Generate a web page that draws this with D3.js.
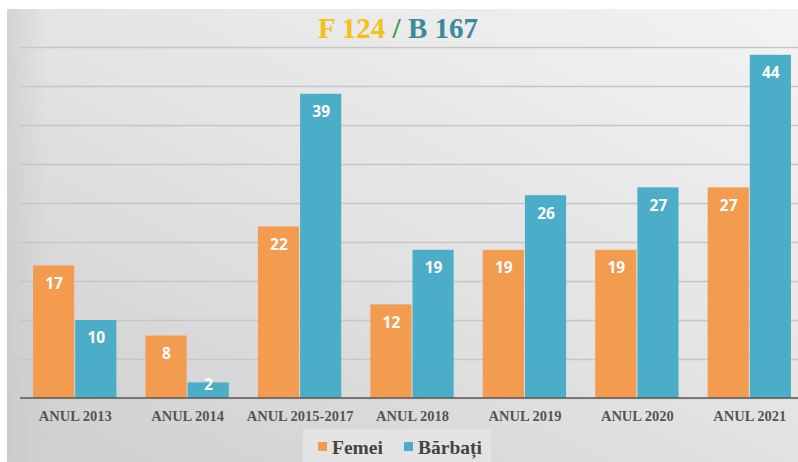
<!DOCTYPE html>
<html>
<head>
<meta charset="utf-8">
<script src="https://cdn.jsdelivr.net/npm/d3@7"></script>
<style>
  html, body { margin: 0; padding: 0; background: #ffffff; }
  svg { display: block; }
</style>
</head>
<body>
<svg id="chart" width="798" height="462"></svg>
<script>
// Chart data
const categories = ["ANUL 2013", "ANUL 2014", "ANUL 2015-2017", "ANUL 2018", "ANUL 2019", "ANUL 2020", "ANUL 2021"];
const femei = [17, 8, 22, 12, 19, 19, 27];
const barbati = [10, 2, 39, 19, 26, 27, 44];
const seriesNames = ["Femei", "Bărbați"];
const yTicks = [0, 5, 10, 15, 20, 25, 30, 35, 40, 45];
const totalF = 124;
const totalB = 167;

const W = 798, H = 462;
const colors = { Femei: "#f39c50", "Bărbați": "#4badc8" };

const svg = d3.select("#chart");
const defs = svg.append("defs");

// Panel background gradient
const grad = defs.append("linearGradient")
  .attr("id", "panelGrad")
  .attr("x1", "1").attr("y1", "0").attr("x2", "0.1").attr("y2", "1");
grad.append("stop").attr("offset", "0%").attr("stop-color", "#f3f3f3");
grad.append("stop").attr("offset", "55%").attr("stop-color", "#e2e2e2");
grad.append("stop").attr("offset", "100%").attr("stop-color", "#d0d0d0");

const side = defs.append("linearGradient")
  .attr("id", "sideGrad")
  .attr("x1", "0").attr("y1", "0").attr("x2", "1").attr("y2", "0");
side.append("stop").attr("offset", "0%").attr("stop-color", "#c8c8c8").attr("stop-opacity", 0.6);
side.append("stop").attr("offset", "100%").attr("stop-color", "#c8c8c8").attr("stop-opacity", 0);

svg.append("rect").attr("x", 0).attr("y", 0).attr("width", W).attr("height", H).attr("fill", "#ffffff");
svg.append("rect").attr("x", 7).attr("y", 9).attr("width", W - 7).attr("height", H - 9).attr("fill", "url(#panelGrad)");
svg.append("rect").attr("x", 7).attr("y", 9).attr("width", 40).attr("height", H - 9).attr("fill", "url(#sideGrad)");

// Scales
const x0 = d3.scaleBand()
  .domain(categories)
  .range([19, 806])
  .paddingInner(0.25)
  .paddingOuter(0.125);

const x1 = d3.scaleBand()
  .domain(seriesNames)
  .range([0, x0.bandwidth()])
  .padding(0);

const y = d3.scaleLinear().domain([0, 45]).range([398, 47]);

// Gridlines
const grid = d3.axisLeft(y).tickValues(yTicks).tickSize(-(W - 20)).tickFormat("");
svg.append("g")
  .attr("transform", "translate(20,0)")
  .call(grid)
  .call(g => g.select(".domain").remove())
  .call(g => g.selectAll(".tick line").attr("stroke", "#c6c6c6").attr("stroke-width", 1.5));

// Bars
const rows = categories.map((c, i) => ({ cat: c, values: [
  { name: "Femei", value: femei[i] },
  { name: "Bărbați", value: barbati[i] }
]}));

const groups = svg.append("g").selectAll("g")
  .data(rows)
  .join("g")
  .attr("transform", d => `translate(${x0(d.cat)},0)`);

groups.selectAll("rect")
  .data(d => d.values)
  .join("rect")
  .attr("x", d => x1(d.name))
  .attr("y", d => y(d.value))
  .attr("width", x1.bandwidth() - 1)
  .attr("height", d => y(0) - y(d.value))
  .attr("fill", d => colors[d.name]);

groups.selectAll("text")
  .data(d => d.values)
  .join("text")
  .attr("x", d => x1(d.name) + x1.bandwidth() / 2)
  .attr("y", d => {
    const h = y(0) - y(d.value);
    return y(d.value) + Math.min(18, h / 2 - 6);
  })
  .attr("dy", "0.35em")
  .attr("text-anchor", "middle")
  .attr("fill", "#ffffff")
  .attr("font-family", "'Noto Sans', sans-serif")
  .attr("font-weight", "bold")
  .attr("font-size", 15.5)
  .text(d => d.value);

// X axis
const xAxis = d3.axisBottom(x0).tickSize(0).tickPadding(13);
const xg = svg.append("g")
  .attr("transform", `translate(0,${y(0)})`)
  .call(xAxis);
xg.select(".domain").remove();
xg.append("line")
  .attr("x1", 20).attr("x2", W).attr("y1", 0).attr("y2", 0)
  .attr("stroke", "#595959").attr("stroke-width", 1.5);
xg.selectAll(".tick text")
  .attr("fill", "#555555")
  .attr("font-family", "'Liberation Serif', serif")
  .attr("font-weight", "bold")
  .attr("font-size", 14.5);

// Title
const title = svg.append("text")
  .attr("x", 398).attr("y", 38)
  .attr("text-anchor", "middle")
  .attr("font-family", "'Liberation Serif', serif")
  .attr("font-weight", "bold")
  .attr("font-size", 29);
title.append("tspan").attr("fill", "#f2c21b").text(`F ${totalF} `);
title.append("tspan").attr("fill", "#3c9a4e").text("/");
title.append("tspan").attr("fill", "#3b8a9c").text(` B ${totalB}`);

// Legend
const legend = svg.append("g");
legend.append("rect")
  .attr("x", 303).attr("y", 429).attr("width", 188).attr("height", 33)
  .attr("fill", "#e3e3e3");
const items = [{ name: "Femei", x: 318 }, { name: "Bărbați", x: 404 }];
items.forEach(it => {
  legend.append("rect")
    .attr("x", it.x).attr("y", 442).attr("width", 9).attr("height", 9)
    .attr("fill", colors[it.name]);
  legend.append("text")
    .attr("x", it.x + 14).attr("y", 447)
    .attr("dy", "0.35em")
    .attr("fill", "#444444")
    .attr("font-family", "'Liberation Serif', serif")
    .attr("font-weight", "bold")
    .attr("font-size", 19.5)
    .text(it.name);
});
</script>
</body>
</html>
